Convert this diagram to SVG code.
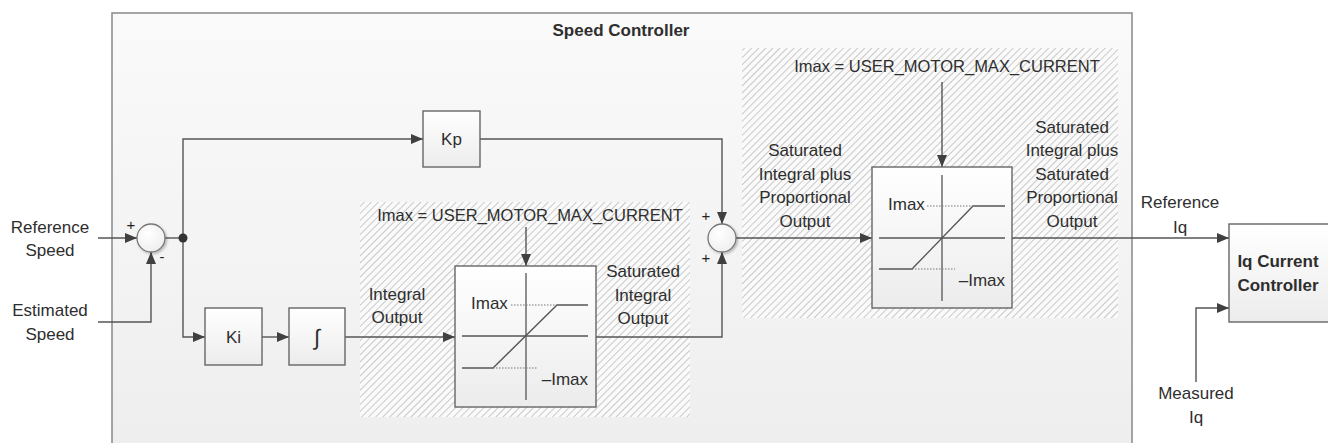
<svg xmlns="http://www.w3.org/2000/svg" width="1328" height="443" viewBox="0 0 1328 443">
<defs>
<linearGradient id="bg" x1="0" y1="0" x2="0" y2="1"><stop offset="0" stop-color="#fafafa"/><stop offset="1" stop-color="#eeeeee"/></linearGradient>
<linearGradient id="box" x1="0" y1="0" x2="0" y2="1"><stop offset="0" stop-color="#ffffff"/><stop offset="1" stop-color="#ececec"/></linearGradient>
<radialGradient id="circ" cx="0.4" cy="0.35" r="0.7"><stop offset="0" stop-color="#ffffff"/><stop offset="1" stop-color="#eeeeee"/></radialGradient>
<pattern id="hatch" width="5" height="5" patternUnits="userSpaceOnUse" patternTransform="rotate(45)"><rect width="5" height="5" fill="#fafafa"/><line x1="0" y1="0" x2="0" y2="5" stroke="#c4c4c4" stroke-width="1.8"/></pattern>
<marker id="arr" markerWidth="12" markerHeight="10" refX="12" refY="5" orient="auto" markerUnits="userSpaceOnUse"><path d="M0,0 L12,5 L0,10 z" fill="#404040"/></marker>
<filter id="sh" x="-30%" y="-30%" width="170%" height="170%"><feDropShadow dx="1.5" dy="1.5" stdDeviation="1" flood-color="#000" flood-opacity="0.25"/></filter>
</defs>
<style>
text{font-family:"Liberation Sans",Arial,sans-serif;font-size:17px;fill:#2e2e2e;}
.t{text-anchor:middle;}
.b{font-weight:bold;}
.ln{fill:none;stroke:#555;stroke-width:1.4;}
.bx{fill:url(#box);stroke:#666;stroke-width:1.4;}
.ax{fill:none;stroke:#555;stroke-width:1.3;}
.dot{fill:none;stroke:#777;stroke-width:1;stroke-dasharray:1.5 1.5;}
.sm{font-size:15px;fill:#222;}
</style>
<rect width="1328" height="443" fill="#ffffff"/>
<g id="speed-controller">
<rect x="112" y="13" width="1020" height="440" fill="url(#bg)" stroke="#888" stroke-width="1.5"/>
<text x="621" y="36" class="t b">Speed Controller</text>
</g>
<g id="hatch1"><rect x="360" y="202" width="330" height="215" fill="url(#hatch)"/></g>
<g id="hatch2"><rect x="742" y="48" width="376" height="270" fill="url(#hatch)"/></g>

<g id="connectors">
<line class="ln" x1="98" y1="238" x2="137" y2="238" marker-end="url(#arr)"/>
<polyline class="ln" points="98,322 151,322 151,252" marker-end="url(#arr)"/>
<line class="ln" x1="165" y1="238" x2="183" y2="238"/>
<polyline class="ln" points="183,238 183,139 423,139" marker-end="url(#arr)"/>
<polyline class="ln" points="183,238 183,337 205,337" marker-end="url(#arr)"/>
<line class="ln" x1="262" y1="337" x2="289" y2="337" marker-end="url(#arr)"/>
<line class="ln" x1="345" y1="337" x2="455" y2="337" marker-end="url(#arr)"/>
<line class="ln" x1="526" y1="227" x2="526" y2="266" marker-end="url(#arr)"/>
<polyline class="ln" points="596,337 722,337 722,252" marker-end="url(#arr)"/>
<polyline class="ln" points="480,139 722,139 722,224" marker-end="url(#arr)"/>
<line class="ln" x1="736" y1="238" x2="872" y2="238" marker-end="url(#arr)"/>
<line class="ln" x1="942" y1="82" x2="942" y2="167" marker-end="url(#arr)"/>
<line class="ln" x1="1012" y1="238" x2="1229" y2="238" marker-end="url(#arr)"/>
<polyline class="ln" points="1196,382 1196,308 1229,308" marker-end="url(#arr)"/>
<circle cx="183" cy="238" r="4.5" fill="#333"/>
</g>

<g id="sum1">
<circle cx="151" cy="238" r="14" fill="url(#circ)" stroke="#777" stroke-width="1.3" filter="url(#sh)"/>
<text x="131" y="230" class="t sm">+</text>
<text x="162" y="262" class="t sm">-</text>
</g>
<g id="sum2">
<circle cx="722" cy="238" r="14" fill="url(#circ)" stroke="#777" stroke-width="1.3" filter="url(#sh)"/>
<text x="706" y="221" class="t sm">+</text>
<text x="706" y="263" class="t sm">+</text>
</g>

<g id="kp"><rect class="bx" x="423" y="111" width="57" height="56"/><text x="451.5" y="145" class="t">Kp</text></g>
<g id="ki"><rect class="bx" x="205" y="308" width="57" height="57"/><text x="233.5" y="343" class="t">Ki</text></g>
<g id="integrator"><rect class="bx" x="289" y="308" width="56" height="57"/><text x="317" y="345" class="t" style="font-size:22px">∫</text></g>

<g id="sat1">
<rect class="bx" x="455" y="266" width="141" height="141"/>
<line class="ax" x1="526" y1="273" x2="526" y2="400"/>
<line class="ax" x1="462" y1="336" x2="588" y2="336"/>
<polyline class="ax" points="462,368 493,368 557,305 588,305"/>
<line class="dot" x1="511" y1="305" x2="557" y2="305"/>
<line class="dot" x1="493" y1="368" x2="538" y2="368"/>
<text x="471" y="309">Imax</text>
<text x="588" y="385" style="text-anchor:end">–Imax</text>
</g>
<g id="sat2">
<rect class="bx" x="872" y="167" width="140" height="141"/>
<line class="ax" x1="942" y1="175" x2="942" y2="301"/>
<line class="ax" x1="879" y1="238" x2="1005" y2="238"/>
<polyline class="ax" points="879,269 912,269 973,206 1005,206"/>
<line class="dot" x1="927" y1="206" x2="973" y2="206"/>
<line class="dot" x1="912" y1="269" x2="955" y2="269"/>
<text x="888" y="210">Imax</text>
<text x="1005" y="286" style="text-anchor:end">–Imax</text>
</g>
<g id="iq-controller">
<rect class="bx" x="1229" y="224" width="100" height="98"/>
<text x="1278" y="267" class="t b">Iq Current</text>
<text x="1278" y="291" class="t b">Controller</text>
</g>

<g id="labels">
<text x="50" y="233" class="t">Reference</text>
<text x="50" y="256" class="t">Speed</text>
<text x="50" y="316" class="t">Estimated</text>
<text x="50" y="340" class="t">Speed</text>
<text x="530" y="221" class="t" style="font-size:16.5px">Imax = USER_MOTOR_MAX_CURRENT</text>
<text x="397" y="300" class="t">Integral</text>
<text x="397" y="323" class="t">Output</text>
<text x="643" y="277" class="t">Saturated</text>
<text x="643" y="301" class="t">Integral</text>
<text x="643" y="324" class="t">Output</text>
<text x="947" y="72" class="t" style="font-size:16.5px">Imax = USER_MOTOR_MAX_CURRENT</text>
<text x="805" y="156" class="t">Saturated</text>
<text x="805" y="180" class="t">Integral plus</text>
<text x="805" y="203" class="t">Proportional</text>
<text x="805" y="227" class="t">Output</text>
<text x="1072" y="133" class="t">Saturated</text>
<text x="1072" y="156" class="t">Integral plus</text>
<text x="1072" y="180" class="t">Saturated</text>
<text x="1072" y="203" class="t">Proportional</text>
<text x="1072" y="227" class="t">Output</text>
<text x="1180" y="208" class="t">Reference</text>
<text x="1180" y="233" class="t">Iq</text>
<text x="1196" y="399" class="t">Measured</text>
<text x="1196" y="423" class="t">Iq</text>
</g>
</svg>
